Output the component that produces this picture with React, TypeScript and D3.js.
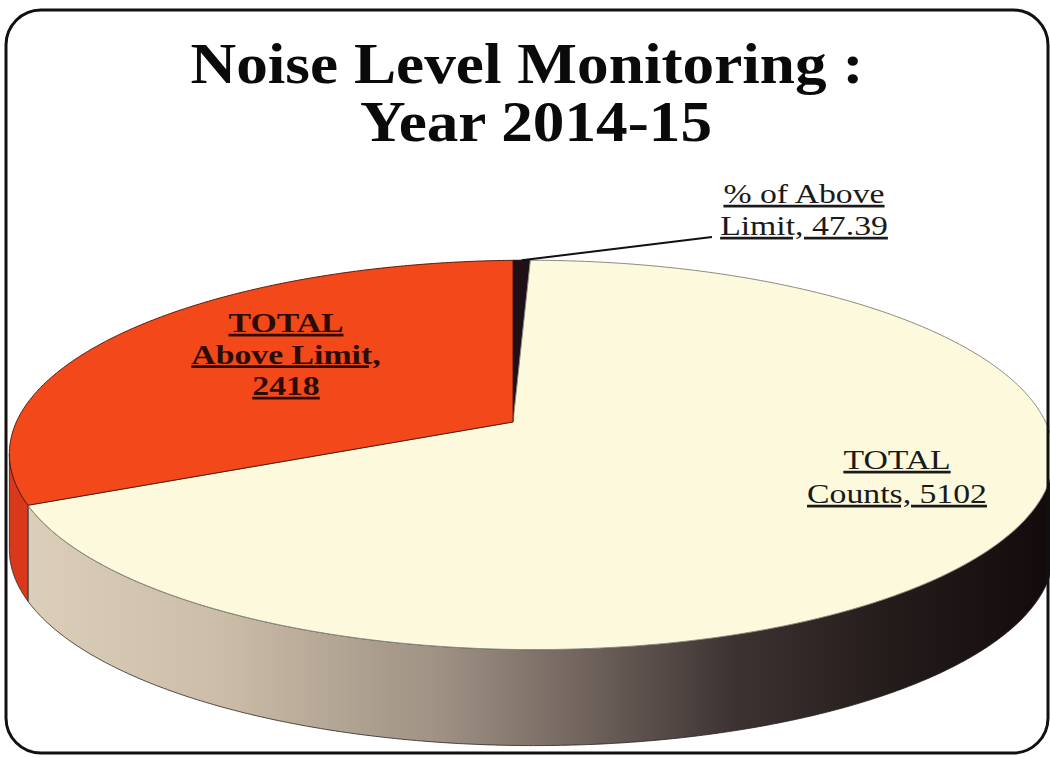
import * as d3 from "d3";

// slices in drawing order, clockwise from 12 o'clock
const sliceNames = ["% of Above Limit", "TOTAL Counts", "TOTAL Above Limit"];
const sliceValues = [47.39, 5102, 2418];
const faceColors = ["#1f0f17", "#fcf9dd", "#f2481a"];
const faceStrokes = ["#120608", "#8a8a80", "#5a1a0a"];
const wallColors = ["#140a0e", "url(#wallGrad)", "#d9391a"];

const titleLines = ["Noise Level Monitoring :", "Year 2014-15"];

// text lines of each data label
const labelLines = [
  ["% of Above", `Limit, ${sliceValues[0]}`],
  ["TOTAL", `Counts, ${sliceValues[1]}`],
  ["TOTAL", "Above Limit,", `${sliceValues[2]}`],
];

// layout of the labels (centre x, first baseline, line step)
const labelLayout = [
  { x: 804, y: 203, step: 32, bold: false, color: "#1a1a1a" },
  { x: 897, y: 469, step: 34, bold: false, color: "#1a1a1a" },
  { x: 286, y: 332, step: 31.5, bold: true, color: "#2a0c04" },
];

// perspective of the pie top
const CX = 513;
const CY = 422;
const A = 514;
const B = 189;
const K = 0.169;
const M = -0.035;
const DEPTH = 96;

function proj(t: number, r = 1, down = false): [number, number] {
  const u = r * Math.sin(t);
  const v = -r * Math.cos(t);
  const d = 1 - K * v + M * u;
  const x = CX + (A * u) / d;
  const y = CY + (B * v) / d + (down ? DEPTH : 0);
  return [x, y];
}

function arcPoints(a0: number, a1: number, down = false) {
  const n = Math.max(2, Math.ceil(((a1 - a0) * 180) / Math.PI / 0.5));
  return d3.range(n + 1).map((i) => proj(a0 + ((a1 - a0) * i) / n, 1, down));
}

const line = d3.line();

const App = () => {
  const pie = d3
    .pie<number>()
    .sort(null)
    .startAngle(0)
    .endAngle(2 * Math.PI);
  const arcs = pie(sliceValues);

  // front wall is visible between the two silhouette angles
  const tL = Math.acos(-K);
  const tR = 2 * Math.PI - tL;

  const walls = arcs.map((a, i) => {
    const lo = Math.max(a.startAngle, tL);
    const hi = Math.min(a.endAngle, tR);
    if (lo >= hi) return null;
    const top = arcPoints(lo, hi);
    const bottom = arcPoints(lo, hi, true).reverse();
    return (
      <path
        key={"w" + i}
        d={line([...top, ...bottom])! + "Z"}
        fill={wallColors[i]}
        stroke="#2a2222"
        strokeWidth={0.8}
      />
    );
  });

  const faces = arcs.map((a, i) => (
    <path
      key={"f" + i}
      d={line([proj(0, 0), ...arcPoints(a.startAngle, a.endAngle)])! + "Z"}
      fill={faceColors[i]}
      stroke={faceStrokes[i]}
      strokeWidth={1}
      strokeLinejoin="round"
    />
  ));

  const dark = arcs[0];
  const leadStart = proj((dark.startAngle + dark.endAngle) / 2, 1);
  const leadEnd: [number, number] = [labelLayout[0].x - 92, labelLayout[0].y + 34];

  return (
    <svg
      width={1050}
      height={757}
      style={{ position: "absolute", left: 0, top: 0, background: "#fff" }}
      fontFamily="'Liberation Serif', 'Times New Roman', serif"
    >
      <defs>
        <linearGradient id="wallGrad" gradientUnits="userSpaceOnUse" x1={15} x2={1045} y1={0} y2={0}>
          <stop offset="0" stopColor="#ddd0ba" />
          <stop offset="0.2" stopColor="#cbbda7" />
          <stop offset="0.42" stopColor="#9d8f82" />
          <stop offset="0.57" stopColor="#6a5e58" />
          <stop offset="0.7" stopColor="#3c3231" />
          <stop offset="0.85" stopColor="#241b1b" />
          <stop offset="1" stopColor="#140c0c" />
        </linearGradient>
      </defs>

      {titleLines.map((t, i) => (
        <text
          key={t}
          transform={`translate(${i === 0 ? 527 : 536},${83 + i * 58}) scale(1.13,1)`}
          textAnchor="middle"
          fontSize={56}
          fontWeight="bold"
          fill="#0a0a0a"
        >
          {t}
        </text>
      ))}

      <g>{walls}</g>
      <g>{faces}</g>

      <path d={line([leadStart, leadEnd])!} stroke="#111" strokeWidth={2} fill="none" />

      {labelLines.map((lines, i) => {
        const L = labelLayout[i];
        return (
          <g key={sliceNames[i]}>
            {lines.map((s, j) => (
              <text
                key={j}
                transform={`translate(${L.x},${L.y + j * L.step}) scale(1.25,1)`}
                textAnchor="middle"
                fontSize={27}
                fontWeight={L.bold ? "bold" : "normal"}
                fill={L.color}
                textDecoration="underline"
              >
                {s}
              </text>
            ))}
          </g>
        );
      })}

      <rect x={6} y={10} width={1042} height={743} rx={35} fill="none" stroke="#111" strokeWidth={3} />
    </svg>
  );
};

export default App;
